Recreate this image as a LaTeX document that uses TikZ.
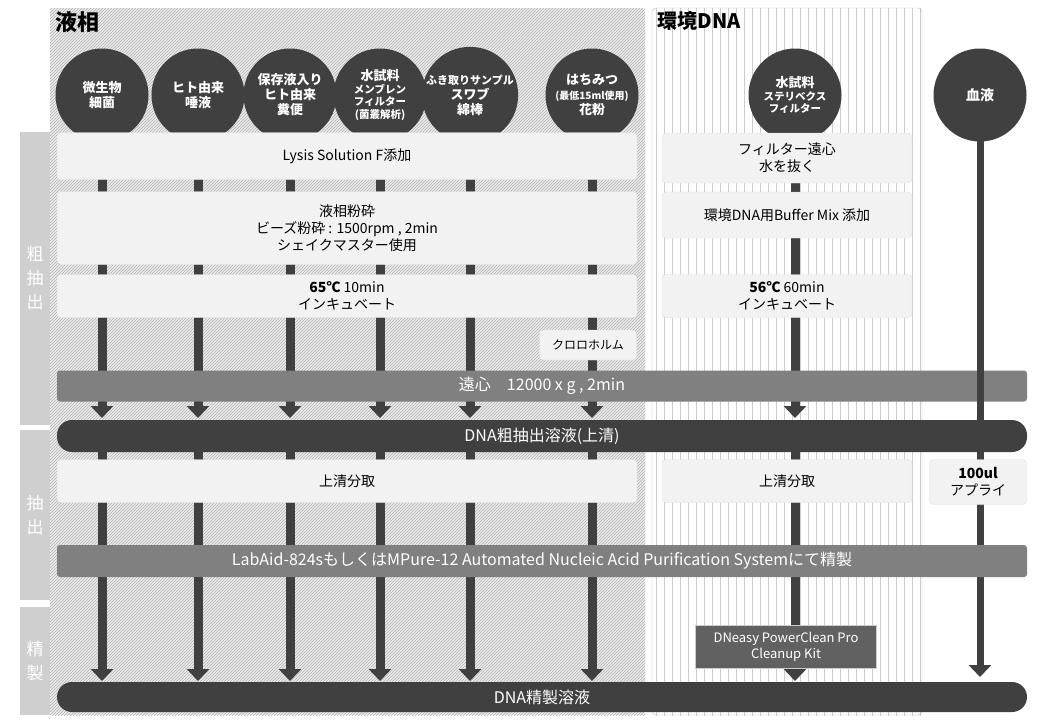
\documentclass[tikz,border=0pt]{standalone}
\usepackage{fontspec}
\setmainfont{Noto Sans CJK JP}
\usetikzlibrary{patterns,arrows.meta}
\definecolor{dk}{HTML}{404040}
\definecolor{md}{HTML}{808080}
\definecolor{bx}{HTML}{F2F2F2}
\begin{document}
\begin{tikzpicture}[x=1pt,y=-1pt,
  circ/.style={circle,fill=dk,minimum size=93pt,inner sep=0,text=white,align=center,font=\fontsize{13}{15}\selectfont\bfseries},
  wbox/.style={draw=black!12,fill=bx,rounded corners=4pt,align=center,font=\fontsize{14}{17}\selectfont},
  gbar/.style={fill=md,rounded corners=3pt,text=white,font=\fontsize{16}{18}\selectfont},
  dbar/.style={fill=dk,rounded corners=15pt,text=white,font=\fontsize{16}{18}\selectfont},
  flow/.style={draw=dk,line width=9pt,-{Triangle[length=12pt,width=22pt]}},
  phase/.style={fill=black!19,text=white,font=\fontsize{17}{24}\selectfont,align=center}]
\useasboundingbox (0,0) rectangle (1040,720);
\fill[white] (0,0) rectangle (1040,720);
% phases
\node[phase,minimum width=30pt,minimum height=293pt] (p1) at (35,278) {粗\\抽\\出};
\node[phase,minimum width=30pt,minimum height=170pt] (p2) at (35,515) {抽\\出};
\node[phase,minimum width=30pt,minimum height=108pt] (p3) at (35,661) {精\\製};
% panels
\fill[black!8,rounded corners=4pt] (50,8) rectangle (645,715);
\fill[pattern=north east lines,pattern color=black!30] (50,8) rectangle (645,715);
\fill[white,rounded corners=4pt] (652,8) rectangle (922,715);
\begin{scope}
\clip (652,8) rectangle (922,715);
\draw[black!20,line width=0.6pt,step=8] (648,4) grid (926,719);
\end{scope}
\draw[black!25,rounded corners=4pt] (652,8) rectangle (922,715);
\node[anchor=north west,font=\fontsize{22}{24}\selectfont\bfseries] (t1) at (52,8) {液相};
\node[anchor=north west,font=\fontsize{20}{24}\selectfont\bfseries] (t2) at (654,8) {環境DNA};
\foreach \n/\x in {a/102,b/198,c/290,d/380,e/470,f/592,g/795}{
  \coordinate (\n0) at (\x,95);
  \coordinate (\n1) at (\x,418);
  \coordinate (\n2) at (\x,452);
  \coordinate (\n3) at (\x,681);
  \draw[flow] (\n0) -- (\n1);
  \draw[flow] (\n2) -- (\n3);
}
\coordinate (h0) at (980,95); \coordinate (h3) at (980,677);
\node[circ] (ca) at (a0) {微生物\\細菌};
\node[circ] (cb) at (b0) {ヒト由来\\唾液};
\node[circ] (cc) at (c0) {保存液入り\\ヒト由来\\糞便};
\node[circ,font=\fontsize{10.5}{12.5}\selectfont\bfseries] (cd) at (d0) {{\fontsize{13}{15}\selectfont 水試料}\\メンブレン\\フィルター\\(菌叢解析)};
\node[circ,font=\fontsize{11}{15}\selectfont\bfseries] (ce) at (e0) {ふき取りサンプル\\{\fontsize{13}{15}\selectfont スワブ}\\{\fontsize{13}{15}\selectfont 綿棒}};
\node[circ] (cf) at (f0) {はちみつ\\{\fontsize{10}{12}\selectfont (最低15ml使用)}\\花粉};
\node[circ,font=\fontsize{10.5}{12.5}\selectfont\bfseries] (cg) at (g0) {{\fontsize{13}{15}\selectfont 水試料}\\ステリベクス\\フィルター};
% boxes
\node[wbox,minimum width=580pt,minimum height=47pt] (b1) at (347,156) {Lysis Solution F添加};
\node[wbox,minimum width=250pt,minimum height=50pt] (e1) at (787,158) {フィルター遠心\\水を抜く};
\node[wbox,minimum width=580pt,minimum height=73pt] (b2) at (347,228) {液相粉砕\\ビーズ粉砕 : 1500rpm , 2min\\シェイクマスター使用};
\node[wbox,minimum width=250pt,minimum height=46pt] (e2) at (787,215) {環境DNA用Buffer Mix 添加};
\node[wbox,minimum width=580pt,minimum height=43pt] (b3) at (347,296) {\textbf{65℃} 10min\\インキュベート};
\node[wbox,minimum width=250pt,minimum height=43pt] (e3) at (787,296) {\textbf{56℃} 60min\\インキュベート};
\node[wbox,minimum width=97pt,minimum height=30pt,font=\fontsize{12}{14}\selectfont] (cl) at (588,345) {クロロホルム};
\node[gbar,minimum width=970pt,minimum height=31pt] (s1) at (542,386) {遠心\hspace{1em}12000 x g , 2min};
\node[dbar,minimum width=970pt,minimum height=32pt] (s2) at (542,436) {DNA粗抽出溶液(上清)};
\node[wbox,minimum width=580pt,minimum height=43pt] (b4) at (347,481) {上清分取};
\node[wbox,minimum width=250pt,minimum height=43pt] (e4) at (787,481) {上清分取};
\draw[flow,line width=7pt] (h0) -- (h3);
\node[circ,font=\fontsize{14}{15}\selectfont\bfseries] (ch) at (h0) {血液};
\node[wbox,minimum width=97pt,minimum height=45pt] (bl) at (978,482) {\textbf{100ul}\\アプライ};
\node[gbar,minimum width=970pt,minimum height=32pt] (s3) at (542,561) {LabAid-824sもしくはMPure-12 Automated Nucleic Acid Purification Systemにて精製};
\node[draw=black!20,fill=black!62,text=white,align=center,minimum width=181pt,minimum height=43pt,font=\fontsize{13}{16}\selectfont] (dn) at (786,647) {DNeasy PowerClean Pro\\Cleanup Kit};
\node[dbar,minimum width=970pt,minimum height=30pt] (s4) at (542,697) {DNA精製溶液};
\end{tikzpicture}
\end{document}
